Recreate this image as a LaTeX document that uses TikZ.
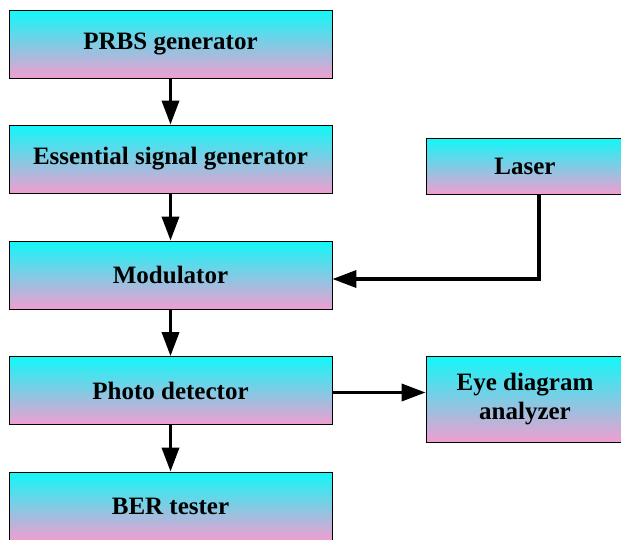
\documentclass[tikz,border=0pt]{standalone}
\usepackage{fontspec}
\setmainfont{Liberation Serif}
\usetikzlibrary{arrows.meta,calc}
\definecolor{boxtop}{RGB}{16,248,248}
\definecolor{boxbot}{RGB}{240,158,208}
\tikzset{
  block/.style={draw=black, line width=0.8pt, top color=boxtop, bottom color=boxbot,
    inner sep=0pt, align=center, font=\fontsize{25}{29}\selectfont\bfseries},
  leftblock/.style={block, minimum width=323pt, minimum height=68pt},
  flow/.style={line width=3.5pt, -{Triangle[length=24pt,width=17pt]}}
}
\begin{document}
\begin{tikzpicture}[x=1pt,y=-1pt]
  \clip (0,0) rectangle (621,539);
  % main chain
  \node[leftblock] (prbs) at (170.5,44)  {PRBS generator};
  \node[leftblock] (esg)  at (170.5,159) {Essential signal generator};
  \node[leftblock] (mod)  at (170.5,275) {Modulator};
  \node[leftblock] (pd)   at (170.5,390.5) {Photo detector};
  \node[leftblock] (ber)  at (170.5,506) {BER tester};
  % side blocks
  \node[block, minimum width=198pt, minimum height=56pt] (laser) at (525,166) {Laser};
  \node[block, minimum width=198pt, minimum height=86pt] (eye) at (525,399) {Eye diagram\\analyzer};
  % connectors
  \draw[flow] (prbs.south) -- (esg.north);
  \draw[flow] (esg.south) -- (mod.north);
  \draw[flow] (mod.south) -- (pd.north);
  \draw[flow] (pd.south) -- (ber.north);
  \coordinate (lz) at (539,194);
  \coordinate (mz) at ($(mod.east)+(0,4)$);
  \draw[flow] (lz) |- (mz);
  \coordinate (pz) at ($(pd.east)+(0,2)$);
  \draw[flow] (pz) -- (pz -| eye.west);
\end{tikzpicture}
\end{document}
